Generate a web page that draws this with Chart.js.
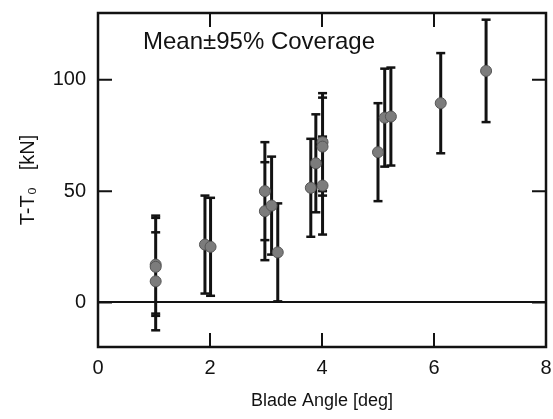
<!DOCTYPE html>
<html>
<head>
<meta charset="utf-8">
<script src="https://cdn.jsdelivr.net/npm/chart.js@4"></script>
<style>
  html, body { margin: 0; padding: 0; background: #fff; }
  #wrap { width: 553px; height: 419px; }
</style>
</head>
<body>
<div id="wrap"><canvas id="thrustChart" width="553" height="419"></canvas></div>
<script>
// blade angle [deg], mean thrust rise [kN], half width of the 95% band [kN]
const angles = [1.03, 1.03, 1.03, 1.91, 2.01, 2.98, 2.98, 3.10, 3.21, 3.80, 3.89, 4.01, 4.01, 4.01, 5.00, 5.12, 5.23, 6.12, 6.93];
const means = [17, 16, 9.5, 26, 25, 50, 41, 43.5, 22.5, 51.5, 62.5, 72, 70, 52.5, 67.5, 83, 83.5, 89.5, 104];
const halfWidths = [22, 22, 22, 22, 22, 22, 22, 22, 22, 22, 22, 22, 22, 22, 22, 22, 22, 22.5, 23];

const xTicks = [0, 2, 4, 6, 8];
const yTicks = [0, 50, 100];

const ink = '#121212';
const fontFamily = '"Liberation Sans", Arial, Helvetica, sans-serif';

const meanPoints = angles.map((a, i) => ({ x: a, y: means[i] }));

// each bar is lo -> hi, then a null point so the line breaks
const barPoints = [];
angles.forEach((a, i) => {
  barPoints.push({ x: a, y: means[i] - halfWidths[i] });
  barPoints.push({ x: a, y: means[i] + halfWidths[i] });
  barPoints.push({ x: a, y: null });
});

const frameAndTicks = {
  id: 'frameAndTicks',
  afterDatasetsDraw(chart) {
    const { ctx, chartArea: area } = chart;
    const xs = chart.scales.x;
    const ys = chart.scales.y;
    ctx.save();
    ctx.strokeStyle = ink;
    ctx.lineWidth = 2;
    ctx.beginPath();
    xTicks.slice(1, -1).forEach((v) => {
      const px = xs.getPixelForValue(v);
      ctx.moveTo(px, area.bottom);
      ctx.lineTo(px, area.bottom - 14);
      ctx.moveTo(px, area.top);
      ctx.lineTo(px, area.top + 14);
    });
    yTicks.forEach((v) => {
      const py = ys.getPixelForValue(v);
      ctx.moveTo(area.left, py);
      ctx.lineTo(area.left + 14, py);
      ctx.moveTo(area.right, py);
      ctx.lineTo(area.right - 14, py);
    });
    ctx.stroke();
    ctx.lineWidth = 2.5;
    ctx.strokeRect(area.left, area.top, area.right - area.left, area.bottom - area.top);

    ctx.fillStyle = ink;
    ctx.font = '24px ' + fontFamily;
    ctx.textBaseline = 'middle';
    ctx.fillText('Mean\u00b195% Coverage', area.left + 45, area.top + 29);
    ctx.restore();
  },
};

new Chart(document.getElementById('thrustChart'), {
  type: 'scatter',
  data: {
    datasets: [
      {
        label: 'mean',
        data: meanPoints,
        pointRadius: 5.5,
        pointBackgroundColor: '#7c7c7c',
        pointBorderColor: '#555',
        pointBorderWidth: 1,
        showLine: false,
      },
      {
        label: '95% coverage',
        data: barPoints,
        showLine: true,
        spanGaps: false,
        borderColor: ink,
        borderWidth: 3,
        pointStyle: 'line',
        pointRadius: 4.5,
        pointBorderColor: ink,
        pointBorderWidth: 2.5,
      },
    ],
  },
  options: {
    responsive: false,
    animation: false,
    layout: { padding: { top: 13, right: 6, left: 0, bottom: 0 } },
    plugins: {
      legend: { display: false },
      tooltip: { enabled: false },
    },
    scales: {
      x: {
        type: 'linear',
        min: 0,
        max: 8,
        afterBuildTicks: (scale) => { scale.ticks = xTicks.map((v) => ({ value: v })); },
        afterFit: (scale) => {
          scale.height = 72;
          scale.paddingLeft = 0;
          scale.paddingRight = 0;
        },
        ticks: { color: ink, padding: 9, font: { family: fontFamily, size: 20 } },
        grid: { display: false, drawTicks: false },
        border: { display: false },
        title: {
          display: true,
          text: 'Blade Angle [deg]',
          color: ink,
          font: { family: fontFamily, size: 18 },
          padding: { top: 0, bottom: 7 },
        },
      },
      y: {
        type: 'linear',
        min: -20,
        max: 130,
        afterBuildTicks: (scale) => { scale.ticks = yTicks.map((v) => ({ value: v })); },
        afterFit: (scale) => {
          scale.width = 98;
          scale.paddingTop = 0;
          scale.paddingBottom = 0;
        },
        ticks: { color: ink, padding: 12, font: { family: fontFamily, size: 20 } },
        grid: {
          drawTicks: false,
          color: (c) => (c.tick && c.tick.value === 0 ? ink : 'rgba(0,0,0,0)'),
          lineWidth: 2,
        },
        border: { display: false },
        title: {
          display: true,
          text: 'T-T\u2080   [kN]',
          color: ink,
          font: { family: fontFamily, size: 20 },
          padding: { top: 16, bottom: 0 },
        },
      },
    },
  },
  plugins: [frameAndTicks],
});
</script>
</body>
</html>
